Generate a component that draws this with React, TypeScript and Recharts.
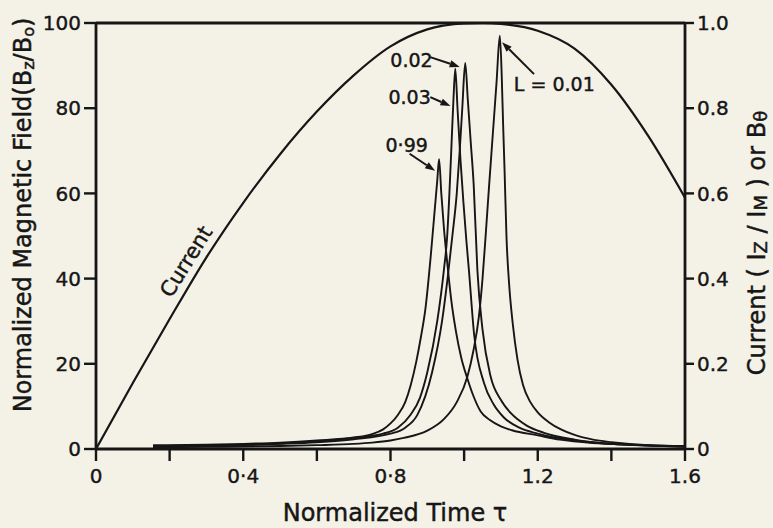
import React from 'react';
import { LineChart, Line, XAxis, YAxis, ReferenceLine, ReferenceDot } from 'recharts';

const FONT = '"DejaVu Sans", "Noto Sans", sans-serif';
const INK = '#161616';
const PAPER = '#f4f1e7';

// ---- axis ticks ----
const timeTicks = [0, 0.2, 0.4, 0.6, 0.8, 1.0, 1.2, 1.4, 1.6];
const timeTickLabels = ['0', '', '0·4', '', '0·8', '', '1.2', '', '1.6'];
const fieldTicks = [0, 20, 40, 60, 80, 100];
const fieldTickLabels = ['0', '20', '40', '60', '80', '100'];
const currentTicks = [0, 0.2, 0.4, 0.6, 0.8, 1.0];
const currentTickLabels = ['0', '0.2', '0.4', '0.6', '0.8', '1.0'];

// ---- current (right axis, I_Z / I_M) ----
const currentT = [0, 0.1, 0.2, 0.3, 0.4, 0.5, 0.6, 0.7, 0.8, 0.9, 1.0, 1.05, 1.1, 1.2, 1.3, 1.4, 1.5, 1.6];
const currentI = [0, 0.155, 0.305, 0.45, 0.578, 0.692, 0.792, 0.877, 0.945, 0.985, 0.999, 1.0, 0.998, 0.982, 0.94, 0.855, 0.735, 0.59];

// ---- normalized field Bz/Bo for each L ----
const l099T = [0.155, 0.3, 0.4, 0.5, 0.6, 0.7, 0.75, 0.78, 0.8, 0.82, 0.84, 0.855, 0.87, 0.882, 0.895, 0.909, 0.92, 0.927, 0.932, 0.938, 0.945, 0.955, 0.965, 0.978, 0.992, 1.009, 1.025, 1.045, 1.07, 1.1, 1.13, 1.2, 1.26, 1.35, 1.45, 1.6];
const l099B = [0.9, 1.0, 1.2, 1.5, 2.0, 2.7, 3.5, 4.6, 6.0, 8.0, 11, 15, 20.5, 26, 33, 45, 56, 63, 68, 60, 52, 43, 35, 27.5, 21.5, 16.5, 12.5, 8.8, 6.8, 5.3, 4.4, 3.2, 2.2, 1.4, 1.0, 0.6];

const l003T = [0.155, 0.3, 0.4, 0.5, 0.6, 0.7, 0.78, 0.82, 0.854, 0.88, 0.9, 0.927, 0.945, 0.954, 0.96, 0.966, 0.971, 0.976, 0.982, 0.99, 0.998, 1.006, 1.013, 1.027, 1.054, 1.08, 1.108, 1.15, 1.2, 1.3, 1.4, 1.5, 1.6];
const l003B = [0.7, 0.8, 1.0, 1.3, 1.8, 2.6, 3.6, 5.0, 8.0, 12, 18, 30, 42, 50, 60, 72, 82, 89.3, 80, 68, 58, 49, 42, 27, 15.5, 10.5, 7.4, 5.0, 3.6, 2.0, 1.2, 0.8, 0.6];

const l002T = [0.155, 0.3, 0.4, 0.5, 0.6, 0.7, 0.8, 0.84, 0.873, 0.913, 0.94, 0.955, 0.968, 0.98, 0.988, 0.995, 1.003, 1.01, 1.018, 1.026, 1.036, 1.05, 1.072, 1.1, 1.127, 1.17, 1.217, 1.3, 1.4, 1.5, 1.6];
const l002B = [0.6, 0.7, 0.9, 1.2, 1.6, 2.3, 3.6, 5.0, 8.0, 18, 30, 40, 50, 60, 70, 80, 90.6, 82, 72, 62, 42, 28, 17, 11.5, 8.4, 5.5, 3.8, 2.2, 1.2, 0.8, 0.6];

const l001T = [0.155, 0.3, 0.5, 0.6, 0.7, 0.75, 0.8, 0.836, 0.9, 0.945, 0.98, 1.009, 1.025, 1.04, 1.05, 1.06, 1.068, 1.078, 1.088, 1.097, 1.102, 1.106, 1.11, 1.115, 1.122, 1.132, 1.145, 1.16, 1.18, 1.2, 1.23, 1.263, 1.3, 1.35, 1.4, 1.5, 1.6];
const l001B = [0.4, 0.5, 0.7, 0.9, 1.2, 1.5, 2.0, 2.6, 4.3, 7.0, 11, 17, 23, 31, 40, 52, 62, 74, 86, 97, 88, 76, 65, 50, 39, 29.5, 21, 15, 11, 8.6, 6.3, 4.6, 3.3, 2.2, 1.6, 0.9, 0.7];

// ---- annotations (data coordinates) ----
const annotationLabels = ['0.02', '0.03', '0·99', 'L = 0.01'];
const annotationTextT = [0.857, 0.852, 0.844, 1.245];
const annotationTextB = [91.3, 82.6, 71.4, 85.7];
const arrowFromT = [0.908, 0.908, 0.852, 1.19];
const arrowFromB = [92.0, 82.6, 69.3, 88.0];
const arrowToT = [0.988, 0.963, 0.921, 1.103];
const arrowToB = [89.7, 80.5, 65.3, 95.5];
const currentLabelT = 0.245;
const currentLabelI = 0.44;

const zip = (t: number[], v: number[]) => t.map((x, i) => ({ t: x, v: v[i] }));

const fieldSeries = [
  { name: 'L=0.99', data: zip(l099T, l099B) },
  { name: 'L=0.03', data: zip(l003T, l003B) },
  { name: 'L=0.02', data: zip(l002T, l002B) },
  { name: 'L=0.01', data: zip(l001T, l001B) },
];
const currentData = zip(currentT, currentI);

// ---- layout ----
const W = 773;
const H = 528;
const M = { top: 23, right: 38, bottom: 29, left: 36 };
const LEFT_W = 60;
const RIGHT_W = 50;
const X_H = 50;

const TEXT_STROKE = { stroke: INK, strokeWidth: 0.45 };

const ArrowShape = (p: any) => {
  const { x1, y1, x2, y2 } = p;
  if ([x1, y1, x2, y2].some((v) => typeof v !== 'number' || isNaN(v))) return <g />;
  const ang = Math.atan2(y2 - y1, x2 - x1);
  const len = 10;
  const wid = 3.6;
  const bx = x2 - len * Math.cos(ang);
  const by = y2 - len * Math.sin(ang);
  const px = -Math.sin(ang) * wid;
  const py = Math.cos(ang) * wid;
  return (
    <g>
      <line x1={x1} y1={y1} x2={bx} y2={by} stroke={INK} strokeWidth={2} />
      <polygon points={`${x2},${y2} ${bx + px},${by + py} ${bx - px},${by - py}`} fill={INK} />
    </g>
  );
};

const makeTextShape = (text: string) => (p: any) => (
  <text x={p.cx} y={p.cy} textAnchor="middle" dominantBaseline="central" fontFamily={FONT} fontSize={19} fill={INK} {...TEXT_STROKE}>
    {text}
  </text>
);

const CurrentTextShape = (p: any) => (
  <text
    x={p.cx}
    y={p.cy}
    textAnchor="middle"
    dominantBaseline="central"
    fontFamily={FONT}
    fontSize={21}
    fill={INK}
    {...TEXT_STROKE}
    transform={`rotate(-58, ${p.cx}, ${p.cy})`}
  >
    Current
  </text>
);

const LeftTitle = () => {
  const cx = 23;
  const cy = 215;
  return (
    <text x={cx} y={cy} textAnchor="middle" dominantBaseline="central" fontFamily={FONT} fontSize={24} fill={INK} {...TEXT_STROKE} transform={`rotate(-90, ${cx}, ${cy})`}>
      Normalized Magnetic Field(B
      <tspan dy={5} fontSize={16}>z</tspan>
      <tspan dy={-5}>/B</tspan>
      <tspan dy={5} fontSize={16}>o</tspan>
      <tspan dy={-5}>)</tspan>
    </text>
  );
};

const RightTitle = () => {
  const cx = 757;
  const cy = 243;
  return (
    <text x={cx} y={cy} textAnchor="middle" dominantBaseline="central" fontFamily={FONT} fontSize={24} fill={INK} {...TEXT_STROKE} transform={`rotate(-90, ${cx}, ${cy})`}>
      Current ( I
      <tspan dy={3} fontSize={18}>Z</tspan>
      <tspan dy={-3}> / I</tspan>
      <tspan dy={3} fontSize={18}>M</tspan>
      <tspan dy={-3}> ) or B</tspan>
      <tspan dy={3} fontSize={18}>θ</tspan>
    </text>
  );
};

const BottomTitle = () => (
  <text x={395} y={521} textAnchor="middle" fontFamily={FONT} fontSize={24} fill={INK} {...TEXT_STROKE}>
    Normalized Time τ
  </text>
);

const labelFor = (ticks: number[], labels: string[]) => (v: number) => {
  const i = ticks.findIndex((x) => Math.abs(x - v) < 1e-6);
  return i >= 0 ? labels[i] : '';
};

const tickStyle = { fill: INK, fontSize: 20, fontFamily: FONT, stroke: INK, strokeWidth: 0.4 };
const axisLineStyle = { stroke: INK, strokeWidth: 2.8 };
const tickLineStyle = { stroke: INK, strokeWidth: 2.4 };

export default function App() {
  return (
    <div style={{ position: 'fixed', left: 0, top: 0, width: W, height: H, background: PAPER }}>
      <LineChart width={W} height={H} margin={M}>
        <XAxis
          dataKey="t"
          type="number"
          domain={[0, 1.6]}
          ticks={timeTicks}
          tickFormatter={labelFor(timeTicks, timeTickLabels)}
          allowDataOverflow
          height={X_H}
          tick={tickStyle}
          tickSize={12}
          tickMargin={8}
          axisLine={axisLineStyle}
          tickLine={tickLineStyle}
          label={{ content: () => <BottomTitle /> }}
        />
        <YAxis
          yAxisId="left"
          type="number"
          domain={[0, 100]}
          ticks={fieldTicks}
          tickFormatter={labelFor(fieldTicks, fieldTickLabels)}
          allowDataOverflow
          width={LEFT_W}
          tick={tickStyle}
          tickSize={12}
          tickMargin={3}
          axisLine={axisLineStyle}
          tickLine={tickLineStyle}
          label={{ content: () => <LeftTitle /> }}
        />
        <YAxis
          yAxisId="right"
          orientation="right"
          type="number"
          domain={[0, 1]}
          ticks={currentTicks}
          tickFormatter={labelFor(currentTicks, currentTickLabels)}
          allowDataOverflow
          width={RIGHT_W}
          tick={tickStyle}
          tickSize={9}
          tickMargin={3}
          axisLine={axisLineStyle}
          tickLine={tickLineStyle}
          label={{ content: () => <RightTitle /> }}
        />
        <ReferenceLine yAxisId="left" y={100} stroke={INK} strokeWidth={2.8} />
        {fieldSeries.map((s) => (
          <Line
            key={s.name}
            yAxisId="left"
            data={s.data}
            dataKey="v"
            type="monotone"
            stroke={INK}
            strokeWidth={1.9}
            dot={false}
            activeDot={false}
            isAnimationActive={false}
          />
        ))}
        <Line
          yAxisId="right"
          data={currentData}
          dataKey="v"
          type="monotone"
          stroke={INK}
          strokeWidth={2.2}
          dot={false}
          activeDot={false}
          isAnimationActive={false}
        />
        {annotationLabels.map((lab, i) => (
          <ReferenceLine
            key={'arrow' + i}
            yAxisId="left"
            segment={[
              { x: arrowFromT[i], y: arrowFromB[i] },
              { x: arrowToT[i], y: arrowToB[i] },
            ]}
            shape={ArrowShape}
          />
        ))}
        {annotationLabels.map((lab, i) => (
          <ReferenceDot
            key={'lab' + i}
            yAxisId="left"
            x={annotationTextT[i]}
            y={annotationTextB[i]}
            r={0}
            shape={makeTextShape(lab)}
          />
        ))}
        <ReferenceDot yAxisId="right" x={currentLabelT} y={currentLabelI} r={0} shape={CurrentTextShape} />
      </LineChart>
    </div>
  );
}
